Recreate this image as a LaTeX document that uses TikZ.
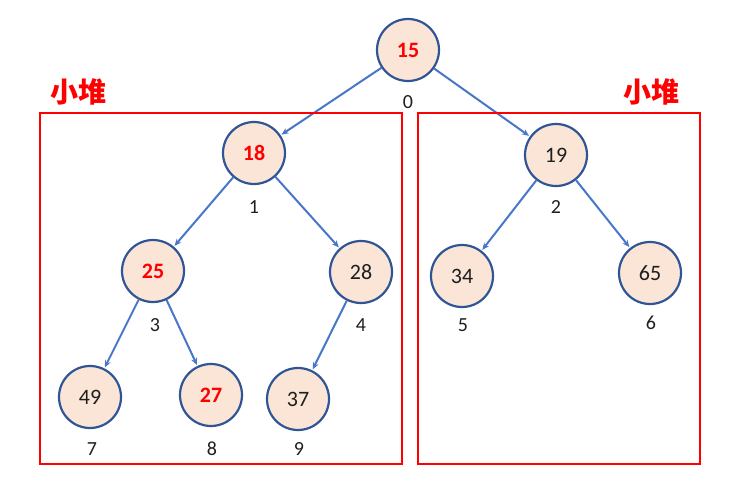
\documentclass[tikz,border=0pt]{standalone}
\usepackage{fontspec}
\setmainfont{Carlito}
\newfontfamily\cjkfont{Noto Sans CJK SC}
\usepackage{xcolor}
\usetikzlibrary{arrows.meta,positioning}
\definecolor{heapblue}{RGB}{47,85,151}
\definecolor{edgeblue}{RGB}{72,118,200}
\definecolor{heapfill}{RGB}{251,229,214}
\definecolor{heapred}{RGB}{255,0,0}
\definecolor{darkgray}{RGB}{30,30,30}

\begin{document}
\begin{tikzpicture}[
    x=1pt, y=-1pt,
    >={Stealth[length=7pt,width=6pt]},
    heapnode/.style={
        circle,
        draw=heapblue,
        fill=heapfill,
        line width=2.2pt,
        minimum size=62pt,
        inner sep=0pt,
        text=darkgray,
        font=\fontsize{22}{24}\selectfont
    },
    hot/.style={
        text=heapred,
        font=\bfseries\fontsize{22}{24}\selectfont
    },
    arrow/.style={
        ->,
        line width=2pt,
        draw=edgeblue,
        shorten >=1pt
    },
    idxlabel/.style={
        font=\fontsize{20}{22}\selectfont,
        text=darkgray
    },
    groupbox/.style={
        draw=heapred,
        line width=2pt
    },
    grouplabel/.style={
        font=\cjkfont\bfseries\fontsize{28}{30}\selectfont,
        text=heapred
    }
]
\useasboundingbox (0,0) rectangle (745,487);

% heap nodes
\node[heapnode, hot] (n0) at (408,50) {15};
\node[heapnode, hot] (n1) at (254,153) {18};
\node[heapnode] (n2) at (556,155) {19};
\node[heapnode, hot] (n3) at (153,271) {25};
\node[heapnode] (n4) at (361,272) {28};
\node[heapnode] (n5) at (462,276) {34};
\node[heapnode] (n6) at (650,273) {65};
\node[heapnode] (n7) at (90,397) {49};
\node[heapnode, hot] (n8) at (211,395) {27};
\node[heapnode] (n9) at (298,399) {37};

% indices
\node[idxlabel] (i0) at (408,102) {0};
\node[idxlabel] (i1) at (254,207) {1};
\node[idxlabel] (i2) at (556,207) {2};
\node[idxlabel] (i3) at (155,325) {3};
\node[idxlabel] (i4) at (361,325) {4};
\node[idxlabel] (i5) at (463,325) {5};
\node[idxlabel] (i6) at (651,323) {6};
\node[idxlabel] (i7) at (92,449) {7};
\node[idxlabel] (i8) at (212,449) {8};
\node[idxlabel] (i9) at (299,449) {9};

% edges
\draw[arrow] (n0) -- (n1);
\draw[arrow] (n0) -- (n2);
\draw[arrow] (n1) -- (n3);
\draw[arrow] (n1) -- (n4);
\draw[arrow] (n2) -- (n5);
\draw[arrow] (n2) -- (n6);
\draw[arrow] (n3) -- (n7);
\draw[arrow] (n3) -- (n8);
\draw[arrow] (n4) -- (n9);

% sub heaps
\draw[groupbox] (40,113) rectangle (402,464);
\draw[groupbox] (418,113) rectangle (700,464);
\node[grouplabel] (gl) at (78,92) {小堆};
\node[grouplabel] (gr) at (651,92) {小堆};

\end{tikzpicture}
\end{document}
